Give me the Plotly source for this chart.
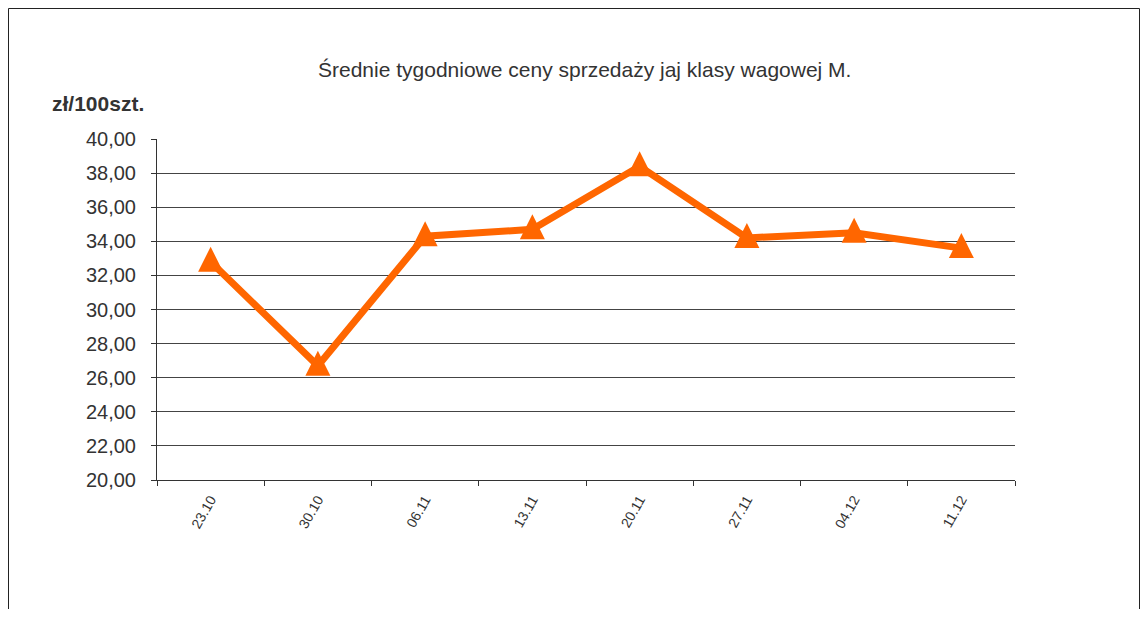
import plotly.graph_objects as go

weeks = ["23.10", "30.10", "06.11", "13.11", "20.11", "27.11", "04.12", "11.12"]
prices = [32.8, 26.7, 34.3, 34.7, 38.4, 34.2, 34.5, 33.6]

title_text = "Średnie tygodniowe ceny sprzedaży jaj klasy wagowej M."
unit_text = "zł/100szt."

OFF = 8  # page body margin
W, H = 1148 - 2 * OFF, 617 - 2 * OFF
# plot area in screen pixels
L, R, T, B = 157, 1015, 139, 480
pw, ph = R - L, B - T
Y0, Y1 = 20, 40

def px(x):
    return (x - L) / pw

def py(y):
    return (B - y) / ph

# triangle marker: tip sits 15 px above the data point
tip_shift = 15 * (Y1 - Y0) / ph
marker_y = [v + tip_shift for v in prices]

fig = go.Figure()
fig.add_trace(go.Scatter(
    x=weeks, y=prices, mode="lines",
    line=dict(color="#FF6600", width=7),
    showlegend=False, hoverinfo="x+y",
))
fig.add_trace(go.Scatter(
    x=weeks, y=marker_y, mode="markers",
    marker=dict(symbol="arrow-up", size=25, color="#FF6600",
                line=dict(width=0)),
    showlegend=False, hoverinfo="skip",
))

fig.update_layout(
    width=W, height=H,
    margin=dict(l=L - OFF, r=(W + OFF) - R, t=T - OFF, b=(H + OFF) - B),
    paper_bgcolor="white", plot_bgcolor="white",
    separators=", ",
    font=dict(family="Liberation Sans, Arial, sans-serif", color="#333333"),
    xaxis=dict(
        type="category", range=[-0.5, 7.5],
        showgrid=False, showline=True, linecolor="#333333", linewidth=1,
        ticks="outside", ticklen=5, tickcolor="#333333", tickson="boundaries",
        tickangle=-60, tickfont=dict(size=14, color="#333333"),
        ticklabelstandoff=5,
    ),
    yaxis=dict(
        range=[Y0, Y1], dtick=2, tick0=20, tickformat=".2f",
        showgrid=True, gridcolor="#444444", gridwidth=1,
        showline=True, linecolor="#333333", linewidth=1,
        ticks="outside", ticklen=5, tickcolor="#333333",
        tickfont=dict(size=20, color="#333333"), zeroline=False,
        ticklabelstandoff=11,
    ),
    annotations=[
        dict(text=title_text, xref="paper", yref="paper", x=px(584), y=py(70),
             showarrow=False, xanchor="center", yanchor="middle",
             font=dict(size=21, color="#333333")),
        dict(text="<b>" + unit_text + "</b>", xref="paper", yref="paper", x=px(50), y=py(103),
             showarrow=False, xanchor="left", yanchor="middle",
             font=dict(size=21, color="#333333")),
    ],
    shapes=[
        dict(type="rect", xref="paper", yref="paper",
             x0=px(8.5), x1=px(W + OFF - 0.5), y0=py(640), y1=py(8.5),
             line=dict(color="#222222", width=1), fillcolor="rgba(0,0,0,0)", layer="below"),
    ],
)

fig.write_html("out.html")
